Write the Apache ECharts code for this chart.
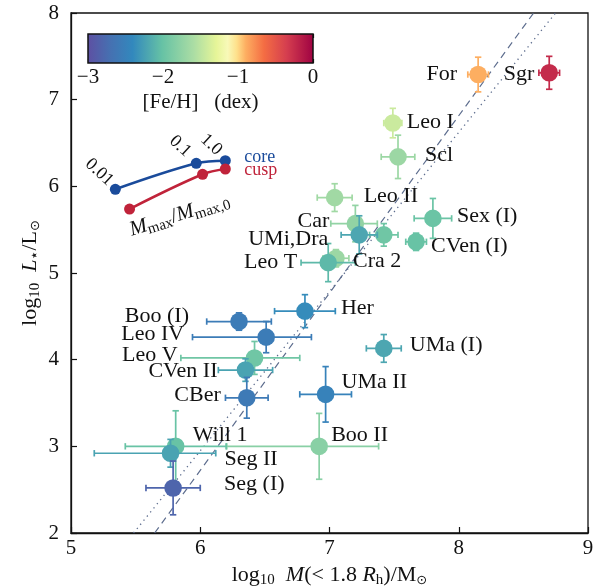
<!DOCTYPE html>
<html>
<head>
<meta charset="utf-8">
<script src="https://cdn.jsdelivr.net/npm/echarts@6/dist/echarts.min.js"></script>
<style>
  html, body { margin: 0; padding: 0; background: #fff; }
  #chart { width: 593px; height: 587px; }
</style>
</head>
<body>
<div id="chart"></div>
<script>
// Dwarf galaxies: dynamical mass within 1.8 half-light radii vs. stellar luminosity
const galaxies   = ['For', 'Sgr', 'Leo I', 'Scl', 'Leo II', 'Sex (I)', 'CVen (I)', 'Car', 'Dra', 'UMi,Dra',
                    'Cra 2', 'Leo T', 'Her', 'UMa (I)', 'Boo (I)', 'Leo IV', 'Leo V', 'CVen II', 'CBer',
                    'UMa II', 'Boo II', 'Will 1', 'Seg II', 'Seg (I)'];
const logMass    = [8.15, 8.70, 7.49, 7.53, 7.04, 7.80, 7.67, 7.20, 7.42, 7.23,
                    7.05, 6.99, 6.81, 7.42, 6.30, 6.51, 6.42, 6.35, 6.36,
                    6.97, 6.92, 5.81, 5.77, 5.79];
const logLum     = [7.29, 7.31, 6.73, 6.34, 5.87, 5.63, 5.36, 5.57, 5.44, 5.44,
                    5.17, 5.12, 4.56, 4.13, 4.44, 4.26, 4.02, 3.88, 3.56,
                    3.60, 3.00, 3.00, 2.92, 2.52];
const massErrLo  = [0.08, 0.08, 0.07, 0.13, 0.135, 0.145, 0.08, 0.19, 0.11, 0.14,
                    0.10, 0.21, 0.235, 0.135, 0.25, 0.57, 0.57, 0.21, 0.165,
                    0.20, 0.715, 0.39, 0.59, 0.21];
const massErrHi  = [0.08, 0.08, 0.07, 0.13, 0.135, 0.145, 0.08, 0.17, 0.11, 0.14,
                    0.10, 0.21, 0.235, 0.135, 0.25, 0.35, 0.35, 0.21, 0.165,
                    0.20, 0.46, 0.39, 0.35, 0.21];
const lumErr     = [0.20, 0.19, 0.17, 0.25, 0.16, 0.23, 0.10, 0.21, 0.13, 0.22,
                    0.10, 0.22, 0.19, 0.16, 0.10, 0.18, 0.19, 0.13, 0.235,
                    0.32, 0.38, 0.41, 0.16, 0.31];
const fehDex     = [-0.90, -0.25, -1.43, -1.68, -1.65, -1.98, -2.00, -1.74, -1.95, -2.20,
                    -1.68, -2.07, -2.37, -2.20, -2.55, -2.55, -1.95, -2.22, -2.58,
                    -2.48, -1.80, -2.00, -2.22, -2.80];

// Reference relations (endpoints at the plot's luminosity limits)
const dashedMass = [5.647, 8.579];
const dashedLum  = [2, 8];
const dottedMass = [5.484, 8.749];
const dottedLum  = [2, 8];

// Tidal stripping tracks for cored and cusped haloes
const stripRatio = ['0.01', '0.1', '1.0'];
const coreMass   = [5.343, 5.969, 6.194];
const coreLum    = [5.966, 6.266, 6.296];
const cuspMass   = [5.453, 6.018, 6.194];
const cuspLum    = [5.738, 6.139, 6.200];

const fehTicks = [-3, -2, -1, 0];

// ---- layout / style -------------------------------------------------------
const SERIF = '"Liberation Serif", "DejaVu Serif", serif';
// label placement per galaxy: [align, dx, dy] in pixels from the marker centre
const labelPlace = [
  ['right', -21, 0], ['right', -15, 1], ['left', 14, -1], ['left', 27, -2], ['left', 29, -1],
  ['left', 24, -2], ['left', 15, 4], ['right', -26, -2], null, ['right', -31, 4],
  ['left', 17, 3], ['right', -31, 0], ['left', 36, -3], ['left', 26, -3], ['right', -50, -5],
  ['right', -82, -3], ['right', -77, -3], ['right', -28, 1], ['right', -26, -3],
  ['left', 16, -12], ['left', 12, -11], ['left', 17, -11], ['left', 54, 6], ['left', 51, -4]
];

// Spectral-like colour scale for [Fe/H] in [-3, 0]
const cmapStops = [
  [0.00, '#5e4fa2'], [0.10, '#4670b1'], [0.20, '#3288bd'], [0.33, '#66c2a5'],
  [0.47, '#abdda4'], [0.57, '#e6f598'], [0.62, '#f8f9b8'], [0.66, '#fee08b'],
  [0.70, '#fdae61'], [0.78, '#f46d43'], [0.88, '#d53e4f'], [1.00, '#9e0142']
];
function hexRgb(h) { return [1, 3, 5].map(k => parseInt(h.substr(k, 2), 16)); }
function fehColor(v) {
  const t = Math.max(0, Math.min(1, (v + 3) / 3));
  for (let k = 1; k < cmapStops.length; k++) {
    if (t <= cmapStops[k][0]) {
      const [t0, c0] = cmapStops[k - 1], [t1, c1] = cmapStops[k];
      const f = (t - t0) / (t1 - t0), a = hexRgb(c0), b = hexRgb(c1);
      return 'rgb(' + a.map((x, j) => Math.round(x + (b[j] - x) * f)).join(',') + ')';
    }
  }
  return cmapStops[cmapStops.length - 1][1];
}

const pointData = galaxies.map((n, i) =>
  [logMass[i], logLum[i], massErrLo[i], massErrHi[i], lumErr[i], fehDex[i], i]);

function renderGalaxy(params, api) {
  const i = api.value(6);
  const x = api.value(0), y = api.value(1);
  const c = api.coord([x, y]);
  const l = api.coord([x - api.value(2), y]);
  const r = api.coord([x + api.value(3), y]);
  const t = api.coord([x, y + api.value(4)]);
  const b = api.coord([x, y - api.value(4)]);
  const col = fehColor(api.value(5));
  const st = { stroke: col, lineWidth: 1.7 };
  const cap = 3.2;
  const seg = (x1, y1, x2, y2) => ({ type: 'line', shape: { x1, y1, x2, y2 }, style: st });
  const children = [
    seg(l[0], c[1], r[0], c[1]),
    seg(c[0], t[1], c[0], b[1]),
    seg(l[0], c[1] - cap, l[0], c[1] + cap),
    seg(r[0], c[1] - cap, r[0], c[1] + cap),
    seg(c[0] - cap, t[1], c[0] + cap, t[1]),
    seg(c[0] - cap, b[1], c[0] + cap, b[1]),
    { type: 'circle', shape: { cx: c[0], cy: c[1], r: 8.8 }, style: { fill: col } }
  ];
  const lp = labelPlace[i];
  if (lp) {
    children.push({
      type: 'text', z2: 50,
      x: c[0] + lp[1], y: c[1] + lp[2],
      style: { text: galaxies[i], fill: '#111', font: '22px ' + SERIF, align: lp[0], verticalAlign: 'middle' }
    });
  }
  return { type: 'group', children };
}

// inset annotation texts, anchored to track points
const insetNotes = [
  { src: 'core', k: 0, dx: -16, dy: -17, text: stripRatio[0], rot: -Math.PI / 4.2, color: '#111', size: 18 },
  { src: 'core', k: 1, dx: -16, dy: -17, text: stripRatio[1], rot: -Math.PI / 4.2, color: '#111', size: 18 },
  { src: 'core', k: 2, dx: -14, dy: -16, text: stripRatio[2], rot: -Math.PI / 4.2, color: '#111', size: 18 },
  { src: 'core', k: 2, dx: 19, dy: -3, text: 'core', rot: 0, color: '#1a4b9b', size: 18, align: 'left' },
  { src: 'cusp', k: 2, dx: 19, dy: 1, text: 'cusp', rot: 0, color: '#c0233a', size: 18, align: 'left' },
  { src: 'cusp', k: 0, dx: 50, dy: 6, text: 'rich', rot: 0.30, color: '#111', size: 18 }
];
const noteData = insetNotes.map((n, j) => {
  const mx = n.src === 'core' ? coreMass : cuspMass;
  const ly = n.src === 'core' ? coreLum : cuspLum;
  return [mx[n.k], ly[n.k], j];
});
function renderNote(params, api) {
  const n = insetNotes[api.value(2)];
  const c = api.coord([api.value(0), api.value(1)]);
  let style;
  if (n.text === 'rich') {
    style = {
      text: '{i|M}{s|max}{n|/}{i|M}{s|max,0}',
      rich: {
        i: { font: 'italic 21px ' + SERIF, fill: '#111' },
        n: { font: '21px ' + SERIF, fill: '#111' },
        s: { font: '15px ' + SERIF, fill: '#111', padding: [10, 0, 0, 0] }
      },
      align: 'center', verticalAlign: 'middle'
    };
  } else {
    style = { text: n.text, fill: n.color, font: n.size + 'px ' + SERIF,
              align: n.align || 'center', verticalAlign: 'middle' };
  }
  return { type: 'text', x: c[0] + n.dx, y: c[1] + n.dy, rotation: n.rot, style };
}

const chart = echarts.init(document.getElementById('chart'), null, { renderer: 'canvas' });

const axisText = { color: '#111', fontFamily: SERIF, fontSize: 21 };
const subRich = {
  n: { fontFamily: SERIF, fontSize: 22, color: '#111' },
  i: { fontFamily: SERIF, fontSize: 22, fontStyle: 'italic', color: '#111' },
  s: { fontFamily: SERIF, fontSize: 15, color: '#111', padding: [11, 0, 0, 0] },
  d: { fontFamily: '"DejaVu Sans"', fontSize: 13, color: '#111', padding: [11, 0, 0, 0] }
};

chart.setOption({
  animation: false,
  backgroundColor: '#fff',
  grid: [
    { left: 71, right: 5, top: 13, bottom: 54, show: true, borderColor: '#111', borderWidth: 1.3,
      z: 0, containLabel: false, outerBoundsMode: 'none' },
    { left: 88, top: 34, width: 225, height: 29, containLabel: false, outerBoundsMode: 'none' }
  ],
  xAxis: [
    {
      gridIndex: 0, type: 'value', min: 5, max: 9, interval: 1,
      axisLine: { show: true, lineStyle: { color: '#111', width: 1.3 } },
      axisTick: { inside: true, length: 6, lineStyle: { color: '#111', width: 1.2 } },
      axisLabel: Object.assign({ margin: 5 }, axisText),
      splitLine: { show: false },
      name: '{n|log}{s|10}{n|  }{i|M}{n|(< 1.8 }{i|R}{s|h}{n|)/M}{d|⊙}',
      nameLocation: 'middle', nameGap: 27,
      nameTextStyle: { rich: subRich }
    },
    {
      gridIndex: 1, type: 'value', min: -3, max: 0, interval: 1,
      axisLine: { show: false },
      axisTick: { inside: true, length: 4, lineStyle: { color: '#111', width: 1.2 } },
      axisLabel: Object.assign({ margin: 4, formatter: v => (v < 0 ? '\u2212' + Math.abs(v) : String(v)) }, axisText),
      splitLine: { show: false },
      name: '[Fe/H]   (dex)', nameLocation: 'middle', nameGap: 29,
      nameTextStyle: axisText
    },
    {
      gridIndex: 1, type: 'value', min: -3, max: 0, interval: 1, position: 'top',
      axisLine: { show: false },
      axisTick: { inside: true, length: 4, lineStyle: { color: '#111', width: 1.2 } },
      axisLabel: { show: false }, splitLine: { show: false }
    }
  ],
  yAxis: [
    {
      gridIndex: 0, type: 'value', min: 2, max: 8, interval: 1,
      axisLine: { show: true, lineStyle: { color: '#111', width: 1.3 } },
      axisTick: { inside: true, length: 6, lineStyle: { color: '#111', width: 1.2 } },
      axisLabel: Object.assign({ margin: 12 }, axisText),
      splitLine: { show: false },
      name: '{n|log}{s|10}{n|  }{i|L}{s|\u22c6}{n|/L}{d|⊙}',
      nameLocation: 'middle', nameGap: 28, nameMoveOverlap: false,
      nameTextStyle: { rich: subRich }
    },
    { gridIndex: 1, type: 'value', min: 0, max: 1, show: false }
  ],
  series: [
    {
      type: 'line', xAxisIndex: 0, yAxisIndex: 0, symbol: 'none', silent: true, z: 1,
      data: dashedMass.map((m, k) => [m, dashedLum[k]]),
      lineStyle: { color: '#5d6d8e', width: 1.2, type: [7, 5] }
    },
    {
      type: 'line', xAxisIndex: 0, yAxisIndex: 0, symbol: 'none', silent: true, z: 1,
      data: dottedMass.map((m, k) => [m, dottedLum[k]]),
      lineStyle: { color: '#5d6d8e', width: 1.3, type: [1.3, 4] }
    },
    {
      type: 'custom', xAxisIndex: 0, yAxisIndex: 0, z: 3,
      renderItem: renderGalaxy, data: pointData, encode: { x: 0, y: 1 }
    },
    {
      type: 'line', xAxisIndex: 0, yAxisIndex: 0, smooth: 0.35, z: 4,
      symbol: 'circle', symbolSize: 11,
      data: coreMass.map((m, k) => [m, coreLum[k]]),
      itemStyle: { color: '#1a4b9b' }, lineStyle: { color: '#1a4b9b', width: 2.6 }
    },
    {
      type: 'line', xAxisIndex: 0, yAxisIndex: 0, smooth: 0.35, z: 4,
      symbol: 'circle', symbolSize: 11,
      data: cuspMass.map((m, k) => [m, cuspLum[k]]),
      itemStyle: { color: '#c0233a' }, lineStyle: { color: '#c0233a', width: 2.6 }
    },
    {
      type: 'custom', xAxisIndex: 0, yAxisIndex: 0, z: 5,
      renderItem: renderNote, data: noteData, encode: { x: 0, y: 1 }
    },
    {
      // colour bar for [Fe/H]
      type: 'custom', xAxisIndex: 1, yAxisIndex: 1, z: 2,
      data: [[fehTicks[0], 0, fehTicks[fehTicks.length - 1], 1]],
      renderItem: function (params, api) {
        const p0 = api.coord([api.value(0), api.value(3)]);
        const p1 = api.coord([api.value(2), api.value(1)]);
        return {
          type: 'rect',
          shape: { x: p0[0], y: p0[1], width: p1[0] - p0[0], height: p1[1] - p0[1] },
          style: {
            fill: new echarts.graphic.LinearGradient(0, 0, 1, 0,
              cmapStops.map(s => ({ offset: s[0], color: s[1] }))),
            stroke: '#111', lineWidth: 1.5
          }
        };
      }
    }
  ]
});
</script>
</body>
</html>
